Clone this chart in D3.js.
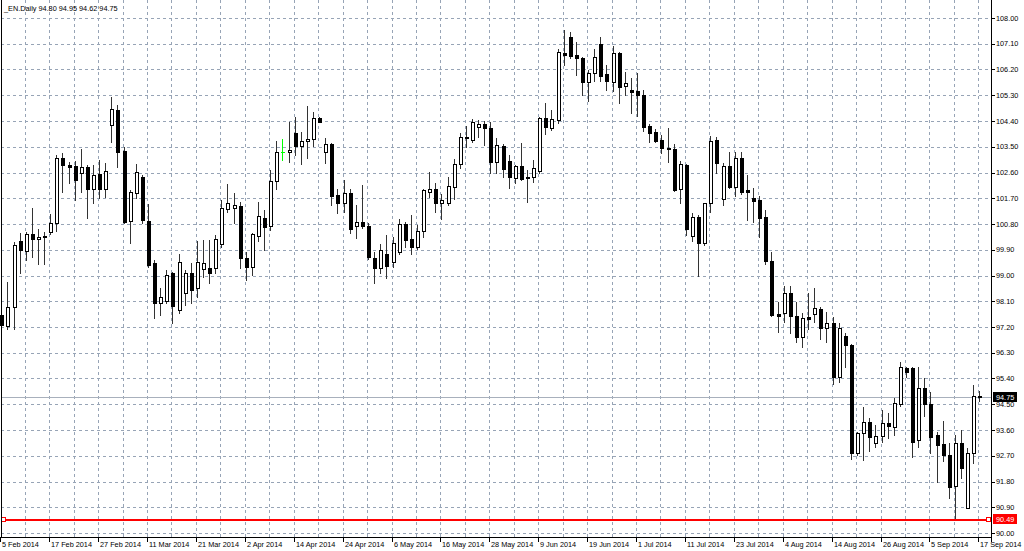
<!DOCTYPE html>
<html>
<head>
<meta charset="utf-8">
<script src="https://cdn.jsdelivr.net/npm/d3@7"></script>
<style>
  html, body { margin: 0; padding: 0; background: #ffffff; }
  svg { display: block; }
  text { font-family: "Liberation Sans", Arial, sans-serif; font-size: 7.3px; fill: #000; }
</style>
</head>
<body>
<svg id="chart" width="1024" height="551"></svg>
<script>
// ---------------- DATA ----------------
const symbolTitle = "_EN.Daily  94.80 94.95 94.62 94.75";
const dateLabels = ["5 Feb 2014","17 Feb 2014","27 Feb 2014","11 Mar 2014","21 Mar 2014","2 Apr 2014","14 Apr 2014","24 Apr 2014","6 May 2014","16 May 2014","28 May 2014","9 Jun 2014","19 Jun 2014","1 Jul 2014","11 Jul 2014","23 Jul 2014","4 Aug 2014","14 Aug 2014","26 Aug 2014","5 Sep 2014","17 Sep 2014"];
const priceTicks = [108.00,107.10,106.20,105.30,104.40,103.50,102.60,101.70,100.80,99.90,99.00,98.10,97.20,96.30,95.40,94.50,93.60,92.70,91.80,90.90,90.00];
const lastPrice = 94.75;
const supportLevel = 90.49;

const opens = [97.62,97.24,97.89,100.21,99.87,100.44,100.28,100.37,100.53,100.82,
103.10,102.86,102.83,102.57,102.80,102.01,102.54,102.03,104.26,104.78,
103.35,100.92,101.89,102.43,100.91,99.43,98.05,98.12,99.10,97.80,
98.40,99.08,98.57,99.22,99.27,99.27,100.09,101.32,101.35,101.44,
99.60,99.31,100.38,101.00,100.73,102.30,103.31,103.31,103.99,103.54,
103.69,103.76,104.52,103.33,103.59,101.81,101.52,101.87,100.74,100.86,
100.74,99.62,99.27,99.75,99.48,99.83,100.79,100.27,100.01,100.57,
101.93,102.02,101.54,101.52,102.08,102.90,103.85,103.74,104.20,104.29,
104.15,102.98,103.54,103.01,102.40,102.83,102.40,102.45,102.66,104.49,
104.15,104.44,106.77,107.33,106.71,106.59,105.75,106.07,107.08,106.03,
105.77,106.79,105.63,105.48,105.45,105.31,104.23,104.03,103.74,103.47,
103.42,102.02,102.86,100.39,101.06,100.13,101.52,103.74,101.67,102.83,
102.10,103.10,101.99,101.70,101.64,101.03,99.52,97.65,97.68,98.38,
97.60,96.84,97.54,97.64,97.83,97.15,97.33,95.46,96.90,96.57,
92.81,93.49,93.87,93.16,93.39,93.84,93.72,94.51,95.76,95.76,
93.25,95.06,94.51,93.43,93.11,92.73,91.64,93.14,90.89,92.81,
94.80];
const highs = [98.26,98.78,100.18,100.50,100.53,101.35,100.62,100.53,101.14,103.21,
103.27,102.98,103.00,103.41,102.86,102.86,103.04,102.92,105.23,104.96,
103.50,101.99,102.90,102.51,101.49,99.54,98.55,99.19,99.13,99.75,
99.19,99.43,100.21,100.24,100.24,100.42,101.64,102.19,101.89,101.58,
99.83,100.50,101.58,101.29,102.69,103.71,103.76,104.38,104.53,104.00,
104.94,104.73,104.53,103.80,103.62,102.01,102.34,102.01,101.46,102.16,
100.82,99.83,100.10,100.42,100.36,100.98,100.88,101.12,100.77,102.02,
102.63,102.22,101.84,102.45,103.08,103.97,104.24,104.46,104.44,104.41,
104.38,103.81,103.58,103.21,102.86,103.64,102.69,103.04,104.55,105.02,
104.78,106.92,107.58,107.52,107.17,106.65,106.18,106.91,107.33,106.36,
107.02,106.82,106.12,105.89,106.07,105.48,104.28,104.12,103.91,104.17,
103.59,103.00,102.90,101.17,101.10,101.54,103.88,103.85,102.92,103.33,
103.33,103.33,102.51,102.05,101.78,101.29,99.83,98.08,98.63,98.63,
98.08,97.68,98.40,98.55,97.91,97.74,97.56,97.35,96.98,96.61,
93.54,94.41,94.01,93.78,94.30,94.18,94.71,95.99,95.81,95.81,
95.81,95.41,94.94,93.52,93.92,93.16,93.43,93.60,92.96,95.17,
94.95];
const lows = [97.13,97.13,97.12,99.08,99.54,99.66,99.40,99.40,100.45,100.57,
101.93,102.24,101.64,101.93,101.00,101.52,101.70,101.75,103.68,102.80,
100.82,100.13,101.70,100.82,99.31,97.50,97.62,98.03,97.33,97.70,
97.97,98.03,98.24,98.96,98.75,99.10,100.01,101.23,100.82,99.25,
98.84,99.02,100.22,99.89,100.59,102.01,103.04,102.98,103.21,102.90,
103.10,103.53,104.36,102.92,101.46,101.17,101.23,100.48,100.30,100.65,
99.57,98.73,99.08,98.90,99.31,99.75,100.01,99.74,99.93,100.34,
101.75,101.23,100.96,101.46,101.67,102.77,103.50,103.66,103.85,103.56,
102.59,102.58,102.45,102.07,102.22,102.34,101.56,102.28,102.57,103.94,
104.10,104.32,106.36,106.59,106.01,105.31,105.10,105.80,105.80,105.48,
105.45,105.02,105.31,104.67,104.59,104.05,103.66,103.66,103.27,102.98,
101.96,101.52,100.42,100.21,98.99,100.07,101.23,102.57,101.46,102.05,
101.79,101.84,100.94,100.88,100.34,99.40,97.58,97.04,97.39,97.00,
96.69,96.51,97.13,97.39,96.77,96.69,95.21,95.29,95.81,92.58,
92.73,92.55,92.88,93.02,93.19,93.31,93.43,94.44,95.46,92.65,
93.02,94.09,92.81,91.77,92.52,91.21,90.49,91.91,90.86,92.44,
94.62];
const closes = [97.27,97.91,100.07,99.89,100.44,100.28,100.36,100.35,100.82,103.12,
102.85,102.80,102.34,102.80,102.01,102.51,102.01,102.65,104.81,103.33,
100.88,101.93,102.63,100.94,99.37,98.03,98.24,99.02,97.93,99.48,
99.10,98.49,99.48,99.43,99.10,100.27,101.35,101.54,101.46,99.60,
99.31,100.44,101.08,100.71,102.30,103.33,103.31,103.39,103.54,103.71,
103.76,104.52,104.37,103.59,101.79,101.52,101.87,100.62,100.88,100.74,
99.64,99.27,99.89,99.34,100.15,100.79,100.24,100.01,100.56,101.99,
102.02,101.52,101.64,102.13,102.90,103.85,103.80,104.38,104.30,104.17,
102.98,103.55,102.72,102.45,102.83,102.37,102.45,102.75,104.52,104.20,
104.46,106.80,106.72,106.68,106.59,105.75,106.09,106.65,105.98,105.80,
106.79,105.60,105.74,105.42,105.31,104.20,103.97,103.71,103.45,103.42,
101.99,102.89,100.63,101.06,100.13,101.52,103.71,102.92,102.84,102.10,
103.10,101.93,101.93,101.62,101.00,99.52,97.62,97.60,98.40,97.59,
96.84,97.50,97.49,97.85,97.15,97.33,95.44,97.15,96.57,92.81,
93.49,93.89,93.35,93.40,93.84,93.74,94.55,95.79,95.64,93.19,
95.06,94.51,93.37,93.08,92.73,91.62,93.14,92.26,92.81,94.80,
94.75];

// ---------------- LAYOUT ----------------
const svg = d3.select("#chart");
const plotLeft = 1, plotRight = 991, plotTop = 0, plotBottom = 537;
const barsPerLabel = 8, barsPerGrid = 4;

const x = d3.scaleLinear().domain([0, opens.length - 1]).range([2.3, 980.3]);
const y = d3.scaleLinear().domain([90, 108]).range([533, 18]);

const gridColor = "#97a4b6";

// grid
const grid = svg.append("g").attr("shape-rendering", "crispEdges");
grid.selectAll("line.h").data(priceTicks).join("line")
  .attr("x1", plotLeft).attr("x2", plotRight)
  .attr("y1", d => Math.round(y(d)) + 0.5).attr("y2", d => Math.round(y(d)) + 0.5)
  .attr("stroke", gridColor).attr("stroke-dasharray", "3,3");
const gridIdx = d3.range(barsPerGrid, opens.length, barsPerGrid);
grid.selectAll("line.v").data(gridIdx).join("line")
  .attr("x1", d => Math.round(x(d)) - 1.5).attr("x2", d => Math.round(x(d)) - 1.5)
  .attr("y1", plotTop).attr("y2", plotBottom)
  .attr("stroke", gridColor).attr("stroke-dasharray", "3,3");

// last price line
svg.append("line").attr("shape-rendering", "crispEdges")
  .attr("x1", plotLeft).attr("x2", plotRight)
  .attr("y1", Math.round(y(lastPrice)) + 0.5).attr("y2", Math.round(y(lastPrice)) + 0.5)
  .attr("stroke", "#a8b0bc");

// candles
const idx = d3.range(opens.length);
const candles = svg.append("g").attr("shape-rendering", "crispEdges");
idx.forEach(i => {
  const o = opens[i], h = highs[i], l = lows[i], c = closes[i];
  const cx = Math.round(x(i));
  const doji = o === c;
  const col = doji ? "#00ff00" : "#000";
  candles.append("line")
    .attr("x1", cx - 0.5).attr("x2", cx - 0.5)
    .attr("y1", Math.round(y(h))).attr("y2", Math.round(y(l)) + 1)
    .attr("stroke", doji ? col : "#333");
  const top = Math.round(y(Math.max(o, c)));
  const bot = Math.round(y(Math.min(o, c)));
  if (doji || bot - top < 1) {
    candles.append("line")
      .attr("x1", cx - 2).attr("x2", cx + 2)
      .attr("y1", top + 0.5).attr("y2", top + 0.5)
      .attr("stroke", col);
  } else {
    candles.append("rect")
      .attr("x", cx - 1.5).attr("y", top + 0.5)
      .attr("width", 3).attr("height", Math.max(bot - top, 1))
      .attr("fill", c > o ? "#fff" : "#000")
      .attr("stroke", "#000");
  }
});

// support line (red)
const sy = Math.round(y(supportLevel)) + 0.5;
svg.append("line").attr("shape-rendering", "crispEdges")
  .attr("x1", plotLeft).attr("x2", plotRight).attr("y1", sy).attr("y2", sy)
  .attr("stroke", "#ff0000").attr("stroke-width", 2);
[3, 988].forEach(px => {
  svg.append("rect").attr("shape-rendering", "crispEdges")
    .attr("x", px - 1.5).attr("y", sy - 2.5).attr("width", 4).attr("height", 4)
    .attr("fill", "#fff").attr("stroke", "#ff0000");
});

// frame
const frame = svg.append("g").attr("shape-rendering", "crispEdges").attr("stroke", "#000");
frame.append("line").attr("x1", plotLeft + 0.5).attr("x2", plotLeft + 0.5).attr("y1", 0).attr("y2", plotBottom);
frame.append("line").attr("x1", plotRight + 0.5).attr("x2", plotRight + 0.5).attr("y1", 0).attr("y2", plotBottom + 5);
frame.append("line").attr("x1", plotLeft).attr("x2", plotRight + 1).attr("y1", plotBottom + 0.5).attr("y2", plotBottom + 0.5);

// right price axis
const yAxis = svg.append("g");
yAxis.selectAll("line").data(priceTicks).join("line")
  .attr("shape-rendering", "crispEdges")
  .attr("x1", plotRight + 1).attr("x2", plotRight + 4)
  .attr("y1", d => Math.round(y(d)) + 0.5).attr("y2", d => Math.round(y(d)) + 0.5)
  .attr("stroke", "#000");
yAxis.selectAll("text").data(priceTicks).join("text")
  .attr("x", 996).attr("y", d => y(d) + 2.6)
  .text(d => d.toFixed(2));

// price labels (last price / support)
function priceTag(val, bg, fg) {
  const yy = y(val);
  svg.append("rect").attr("x", 993).attr("y", Math.round(yy) - 5).attr("width", 24).attr("height", 10).attr("fill", bg);
  svg.append("text").attr("x", 996).attr("y", yy + 2.6).style("fill", fg).text(val.toFixed(2));
}
priceTag(lastPrice, "#000", "#fff");
priceTag(supportLevel, "#ff0000", "#fff");

// bottom time axis
const xAxis = svg.append("g");
xAxis.selectAll("line").data(dateLabels).join("line")
  .attr("shape-rendering", "crispEdges")
  .attr("x1", (d, k) => Math.round(x(k * barsPerLabel)) - 1.5)
  .attr("x2", (d, k) => Math.round(x(k * barsPerLabel)) - 1.5)
  .attr("y1", plotBottom).attr("y2", plotBottom + 5)
  .attr("stroke", "#000");
xAxis.selectAll("text").data(dateLabels).join("text")
  .attr("x", (d, k) => Math.round(x(k * barsPerLabel)))
  .attr("y", 547)
  .text(d => d);

// title
svg.append("text").attr("x", 4).attr("y", 11).text(symbolTitle);
</script>
</body>
</html>
